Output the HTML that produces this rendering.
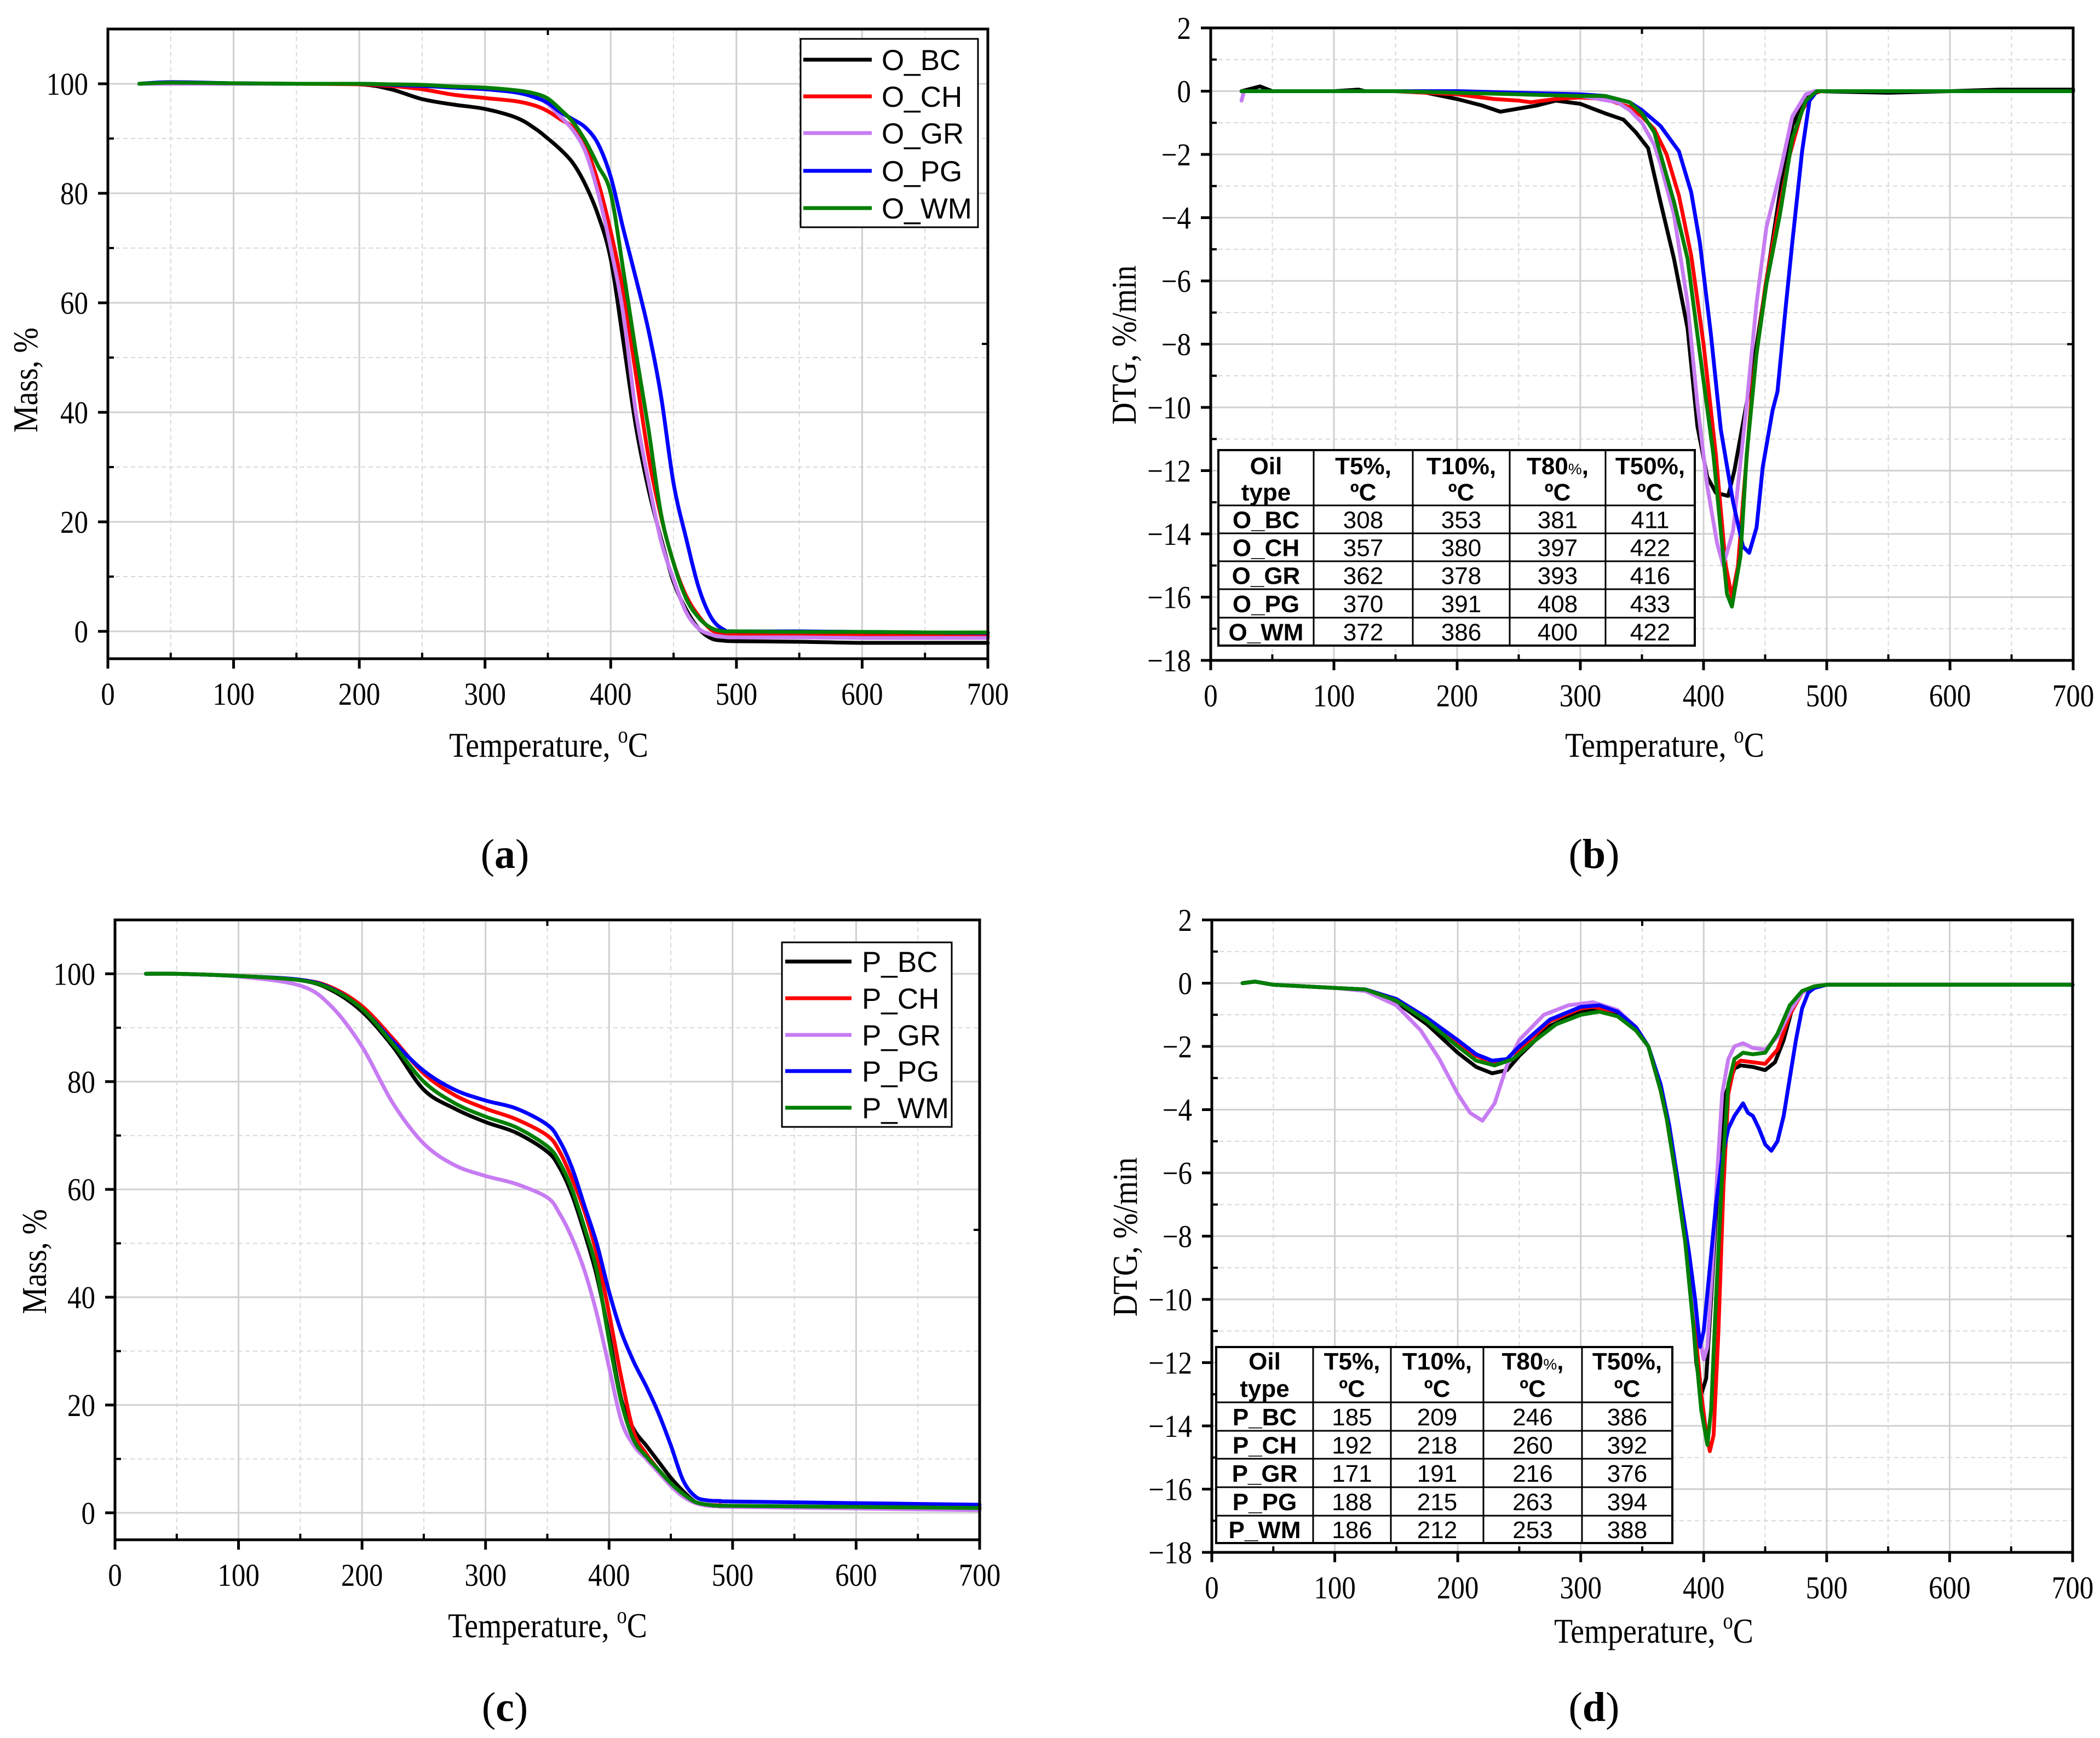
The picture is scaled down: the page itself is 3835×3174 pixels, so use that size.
<!DOCTYPE html>
<html><head><meta charset="utf-8"><title>TG / DTG curves</title>
<style>
html,body{margin:0;padding:0;background:#fff;}
svg{display:block;}
</style></head>
<body>
<svg id="fig" xmlns="http://www.w3.org/2000/svg" width="3835" height="3174" viewBox="0 0 3835 3174">
<rect x="0" y="0" width="3835" height="3174" fill="#fff"/>
</svg>
<script>
// ---------- Panel (a): TG of O_ oils ----------
const aTemps = [25,50,100,150,200,225,250,275,300,325,340,350,360,370,380,390,400,410,420,430,440,450,460,470,480,490,500,550,600,650,700];
const aBC = [100,100.2,100,100,99.9,99,97.2,96.2,95.4,93.8,91.8,90,88,85.5,81.5,76,68,53,37.5,26,17,9,4,0.5,-1.3,-1.7,-1.8,-1.9,-2.1,-2.1,-2.1];
const aCH = [100,100.1,100,100,99.9,99.6,99,98,97.4,96.8,96,95,93.5,92,88.5,82,73,62,47,32,21,12.5,6.5,2.8,0.3,-0.5,-0.7,-0.7,-0.8,-0.8,-0.8];
const aGR = [100,100,100,100,100,99.9,99.8,99.5,99.2,98.6,97.7,96.3,94,91.5,87.5,80,70,58,40,27.5,16.5,9.5,3.5,0.5,-0.6,-1,-1.1,-1.1,-1.2,-1.2,-1.2];
const aPG = [100,100.3,100.1,100,100,99.8,99.6,99.3,99,98.4,97.5,96.5,94.8,93.5,92,89,83,73.5,64.5,55,43,27,17,8,2.5,0.3,0,0,-0.1,-0.2,-0.3];
const aWM = [100,100.2,100.1,100,100,99.9,99.8,99.5,99.3,98.8,98.2,97.3,95.3,93,89.5,85,80,66,51,37,21.5,12.5,6,2.5,0.6,0,0,-0.1,-0.1,-0.2,-0.2];

// ---------- Panel (c): TG of P_ oils ----------
const cTemps = [25,50,100,150,175,200,225,250,275,300,325,350,360,370,380,390,400,410,420,430,440,450,460,470,480,490,500,600,700];
const cBC = [100,100,99.6,98.8,97,93,86.5,78.5,75,72.5,70.5,67,64,59,52,44,33,21,15.5,12.5,9.5,6.5,4,2,1.5,1.3,1.2,1.0,0.9];
const cCH = [100,100,99.6,98.9,97.5,94,88,81.5,77.5,75,73,70,67,62,56,48,37,25,15,11,8,5.5,3.5,2,1.5,1.4,1.3,1.0,0.8];
const cGR = [100,100,99.5,97.8,94,86.5,76,68.5,64.5,62.5,61,58.5,55.5,51,45,37,27,17,12.5,10,7.5,5,3,1.8,1.3,1.2,1.1,0.8,0.5];
const cPG = [100,100,99.6,98.9,97.3,93.5,87.5,82,78.5,76.5,75,72,69,64,57,50,41,33.5,28,23.5,18.5,12.5,6,3,2.3,2.2,2.1,1.8,1.5];
const cWM = [100,100,99.6,98.8,97.2,93.5,87,80,76,73.5,71.5,68,65,60,53,45,32,20.5,13.5,10.5,8,5.5,3.5,2,1.5,1.3,1.3,1.1,0.9];

// ---------- Panel (b): DTG of O_ oils ----------
const bBCt = [25,35,40,50,75,100,120,125,150,175,200,220,235,250,265,280,300,320,335,345,355,365,376,387,395,403,410,420,425,432,440,451,462,472,483,492,550,600,640,650,700];
const bBCv = [0,0.1,0.15,0,0,0,0.05,0,0,-0.05,-0.25,-0.45,-0.65,-0.55,-0.45,-0.3,-0.4,-0.7,-0.9,-1.3,-1.8,-3.5,-5.3,-7.5,-10.6,-12.2,-12.7,-12.8,-12.0,-10.5,-8.8,-6.0,-3.2,-1.1,-0.2,0,-0.05,0,0.05,0.05,0.05];
const bCHt = [25,50,100,150,200,230,250,260,280,300,320,340,350,360,370,380,390,400,410,418,423,428,432,440,450,460,470,480,488,495,550,600,700];
const bCHv = [0,0,0,0,-0.1,-0.25,-0.3,-0.35,-0.25,-0.2,-0.25,-0.5,-0.8,-1.2,-2.0,-3.3,-5.2,-8.0,-11.5,-15,-16,-15,-13,-9.2,-6.2,-4.0,-2.0,-0.6,-0.1,0,0,0,0];
const bGRt = [25,27,30,50,100,150,200,250,300,330,340,350,360,365,376,387,395,403,411,416,424,435,443,451,462,472,483,490,550,600,700];
const bGRv = [-0.3,0,0,0,0,0,-0.05,-0.05,-0.15,-0.35,-0.6,-1.0,-1.7,-2.3,-3.9,-6.7,-9.9,-12.5,-14.3,-15,-13.9,-9.9,-6.7,-4.3,-2.6,-0.8,-0.1,0,0,0,0];
const bPGt = [25,50,100,150,200,250,300,320,340,350,365,380,390,397,406,414,424,432,437,443,448,456,460,467,472,480,486,492,550,600,700];
const bPGv = [0,0,0,0,0,-0.05,-0.1,-0.15,-0.35,-0.6,-1.1,-1.9,-3.2,-4.8,-7.7,-10.7,-13,-14.4,-14.6,-13.8,-11.9,-10.1,-9.5,-6.7,-4.8,-1.9,-0.3,0,0,0,0];
const bWMt = [25,50,100,150,200,250,300,320,340,350,360,376,387,397,408,416,419,423,430,435,443,451,462,472,483,492,550,600,700];
const bWMv = [0,0,0,0,-0.05,-0.1,-0.15,-0.15,-0.35,-0.7,-1.3,-3.5,-5.3,-8.3,-11.5,-14.7,-15.9,-16.3,-14.7,-11.5,-8.3,-6.1,-3.9,-1.5,-0.3,0,0,0,0];

// ---------- Panel (d): DTG of P_ oils ----------
const dBCt = [25,35,50,100,125,150,175,200,215,228,240,250,275,300,315,330,345,355,365,370,377,385,390,394,398,402,406,412,418,425,430,440,450,458,465,472,480,490,500,600,700];
const dBCv = [0,0.05,-0.05,-0.15,-0.2,-0.6,-1.3,-2.2,-2.65,-2.85,-2.75,-2.3,-1.35,-0.9,-0.85,-1.0,-1.5,-2.0,-3.4,-4.3,-6,-8,-10,-12,-13,-12.5,-10,-6,-3.5,-2.7,-2.6,-2.65,-2.75,-2.5,-1.8,-0.8,-0.3,-0.1,-0.05,-0.05,-0.05];
const dCHt = [25,35,50,100,125,150,175,200,215,228,240,250,275,300,310,330,345,355,365,370,377,385,392,398,402,405,408,412,416,420,425,430,440,450,460,470,480,490,500,600,700];
const dCHv = [0,0.05,-0.05,-0.15,-0.2,-0.5,-1.1,-1.9,-2.3,-2.5,-2.45,-2.1,-1.2,-0.8,-0.75,-0.9,-1.4,-2.0,-3.4,-4.3,-6,-8,-10.5,-13,-14.2,-14.8,-14.3,-11,-6.5,-3.5,-2.6,-2.45,-2.5,-2.55,-2.1,-1.0,-0.3,-0.1,-0.05,-0.05,-0.05];
const dGRt = [25,35,50,100,125,150,170,185,200,210,220,230,240,250,270,290,310,330,345,355,365,370,377,385,392,397,400,403,407,411,415,420,425,432,440,450,460,470,480,490,500,600,700];
const dGRv = [0,0.05,-0.05,-0.15,-0.25,-0.7,-1.5,-2.4,-3.5,-4.1,-4.35,-3.8,-2.6,-1.8,-1.0,-0.7,-0.6,-0.85,-1.4,-2.0,-3.4,-4.3,-6,-8,-10,-11.3,-11.9,-11.5,-9,-6,-3.5,-2.4,-2.0,-1.9,-2.05,-2.1,-1.7,-0.9,-0.3,-0.1,-0.05,-0.05,-0.05];
const dPGt = [25,35,50,100,125,150,175,200,215,228,240,250,275,300,315,330,345,355,365,372,380,388,393,397,400,405,410,415,420,425,432,436,440,445,450,455,460,465,470,475,480,485,490,500,600,700];
const dPGv = [0,0.05,-0.05,-0.15,-0.2,-0.5,-1.1,-1.8,-2.25,-2.45,-2.4,-2.0,-1.15,-0.75,-0.7,-0.9,-1.4,-2.0,-3.2,-4.5,-6.5,-8.5,-10,-11.5,-11,-9,-7,-5.5,-4.6,-4.2,-3.8,-4.1,-4.2,-4.6,-5.1,-5.3,-5.0,-4.2,-3.0,-1.8,-0.8,-0.3,-0.15,-0.05,-0.05,-0.05];
const dWMt = [25,35,50,100,125,150,175,200,215,230,245,260,280,300,315,330,345,355,365,370,377,385,392,398,403,406,410,415,420,425,432,440,450,460,470,480,490,500,600,700];
const dWMv = [0,0.05,-0.05,-0.15,-0.2,-0.55,-1.2,-2.0,-2.45,-2.6,-2.4,-1.9,-1.3,-1.0,-0.9,-1.05,-1.5,-2.0,-3.4,-4.3,-6,-8.2,-11,-13.5,-14.6,-13.5,-10,-6,-3.2,-2.4,-2.2,-2.25,-2.2,-1.6,-0.7,-0.25,-0.1,-0.05,-0.05,-0.05];

// ---------- Axis ticks & table data ----------
const xTicks = [0,100,200,300,400,500,600,700];
const xMinor = [50,150,250,350,450,550,650];
const tgTicks = [0,20,40,60,80,100];
const tgMinor = [10,30,50,70,90,110];
const dtgTicks = [2,0,-2,-4,-6,-8,-10,-12,-14,-16,-18];
const dtgMinor = [1,-1,-3,-5,-7,-9,-11,-13,-15,-17];
const oNames = ['O_BC','O_CH','O_GR','O_PG','O_WM'];
const pNames = ['P_BC','P_CH','P_GR','P_PG','P_WM'];
const oTable = [[308,353,381,411],[357,380,397,422],[362,378,393,416],[370,391,408,433],[372,386,400,422]];
const pTable = [[185,209,246,386],[192,218,260,392],[171,191,216,376],[188,215,263,394],[186,212,253,388]];
const colors = ['#000000','#ff0000','#c77cf2','#0000ff','#007f00'];

const NS = 'http://www.w3.org/2000/svg';
const svg = document.getElementById('fig');
function mk(tag, parent){ const e = document.createElementNS(NS, tag); parent.appendChild(e); return e; }
function set(e, o){ for (const k in o) e.setAttribute(k, o[k]); return e; }
function fmt(v){ return v < 0 ? '\u2212' + Math.abs(v) : String(v); }

function sx(p, t){ return p.x0 + t / 700 * (p.x1 - p.x0); }
function sy(p, v){ return p.bottom - (v - p.ymin) / (p.ymax - p.ymin) * (p.bottom - p.top); }

function smoothPath(pts){
  let d = 'M' + pts[0][0].toFixed(1) + ',' + pts[0][1].toFixed(1);
  for (let i = 0; i < pts.length - 1; i++){
    const p0 = pts[Math.max(0, i - 1)], p1 = pts[i], p2 = pts[i + 1], p3 = pts[Math.min(pts.length - 1, i + 2)];
    const c1x = p1[0] + (p2[0] - p0[0]) / 6, c1y = p1[1] + (p2[1] - p0[1]) / 6;
    const c2x = p2[0] - (p3[0] - p1[0]) / 6, c2y = p2[1] - (p3[1] - p1[1]) / 6;
    d += ' C' + c1x.toFixed(1) + ',' + c1y.toFixed(1) + ' ' + c2x.toFixed(1) + ',' + c2y.toFixed(1) + ' ' + p2[0].toFixed(1) + ',' + p2[1].toFixed(1);
  }
  return d;
}

function condText(parent, x, y, str, size, anchor, sxScale, family, weight){
  const t = mk('text', parent);
  set(t, {transform: 'translate(' + x + ',' + y + ') scale(' + sxScale + ',1)', 'font-family': family || '"Liberation Serif", serif', 'font-size': size, 'text-anchor': anchor, fill: '#000'});
  if (weight) t.setAttribute('font-weight', weight);
  t.textContent = str;
  return t;
}

function panel(p){
  const g = mk('g', svg);
  
  
  const grid = mk('g', g);
  
  
  xMinor.forEach(t => { const l = mk('line', grid); set(l, {x1: sx(p,t), x2: sx(p,t), y1: p.top, y2: p.bottom, stroke: '#d9d9d9', 'stroke-width': 2, 'stroke-dasharray': '8,6'}); });
  p.minor.forEach(v => { if (v <= p.ymax && v >= p.ymin) { const l = mk('line', grid); set(l, {x1: p.x0, x2: p.x1, y1: sy(p,v), y2: sy(p,v), stroke: '#d9d9d9', 'stroke-width': 2, 'stroke-dasharray': '8,6'}); } });
  xTicks.forEach(t => { const l = mk('line', grid); set(l, {x1: sx(p,t), x2: sx(p,t), y1: p.top, y2: p.bottom, stroke: '#d0d0d0', 'stroke-width': 3}); });
  p.major.forEach(v => { const l = mk('line', grid); set(l, {x1: p.x0, x2: p.x1, y1: sy(p,v), y2: sy(p,v), stroke: '#d0d0d0', 'stroke-width': 3}); });
  p.series.forEach((s, i) => {
    const pts = s.t.map((t, k) => [sx(p,t), sy(p, s.v[k])]);
    let pl;
    if (p.smooth) {
      pl = mk('path', g);
      
      
      set(pl, {d: smoothPath(pts), fill: 'none', stroke: colors[i], 'stroke-width': 7, 'stroke-linejoin': 'round', 'stroke-linecap': 'round'});
    } else {
      pl = mk('polyline', g);
      
      
      set(pl, {points: pts.map(q => q[0].toFixed(1) + ',' + q[1].toFixed(1)).join(' '), fill: 'none', stroke: colors[i], 'stroke-width': 7, 'stroke-linejoin': 'round', 'stroke-linecap': 'round'});
    }
  });
  const fr = mk('rect', g);
  
  
  set(fr, {x: p.x0, y: p.top, width: p.x1 - p.x0, height: p.bottom - p.top, fill: 'none', stroke: '#000', 'stroke-width': 5});
  const xa = mk('g', g);
  
  
  xTicks.forEach(t => {
    const l = mk('line', xa); set(l, {x1: sx(p,t), x2: sx(p,t), y1: p.bottom, y2: p.bottom + 18, stroke: '#000', 'stroke-width': 5});
    const lb = condText(xa, sx(p,t), p.bottom + 84, String(t), 58, 'middle', 0.88);
    
    
  });
  xMinor.forEach(t => { const l = mk('line', xa); set(l, {x1: sx(p,t), x2: sx(p,t), y1: p.bottom, y2: p.bottom - 11, stroke: '#000', 'stroke-width': 4}); });
  const tt = mk('line', xa); set(tt, {x1: sx(p,350), x2: sx(p,350), y1: p.top, y2: p.top + 11, stroke: '#000', 'stroke-width': 4});
  const ya = mk('g', g);
  
  
  p.major.forEach(v => {
    const l = mk('line', ya); set(l, {x1: p.x0 - 18, x2: p.x0, y1: sy(p,v), y2: sy(p,v), stroke: '#000', 'stroke-width': 5});
    const lb = condText(ya, p.x0 - 36, sy(p,v) + 20, fmt(v), 58, 'end', 0.88);
    
    
  });
  p.minor.forEach(v => { if (v <= p.ymax && v >= p.ymin) { const l = mk('line', ya); set(l, {x1: p.x0, x2: p.x0 + 11, y1: sy(p,v), y2: sy(p,v), stroke: '#000', 'stroke-width': 4}); } });
  const rt = mk('line', ya); set(rt, {x1: p.x1 - 11, x2: p.x1, y1: (p.top + p.bottom) / 2, y2: (p.top + p.bottom) / 2, stroke: '#000', 'stroke-width': 4});
  const xt = mk('text', g);
  
  
  set(xt, {transform: 'translate(' + p.xtx + ',' + p.xty + ') scale(0.87,1)', 'font-family': '"Liberation Serif", serif', 'font-size': 64, 'text-anchor': 'middle'});
  xt.innerHTML = 'Temperature, <tspan font-size="42" dy="-26">o</tspan><tspan dy="26">C</tspan>';
  const yt = mk('text', g);
  
  
  set(yt, {transform: 'translate(' + p.ytx + ',' + p.yty + ') rotate(-90) scale(0.87,1)', 'font-family': '"Liberation Serif", serif', 'font-size': 64, 'text-anchor': 'middle'});
  yt.textContent = p.ytitle;
  const pl = mk('text', g);
  
  
  set(pl, {x: p.lx, y: p.ly, 'font-family': '"Liberation Serif", serif', 'font-size': 76, 'text-anchor': 'middle'});
  pl.innerHTML = '(<tspan font-weight="bold">' + p.letter + '</tspan>)';
  return g;
}

function legend(g, box, names, ys, lx0, lx1, tx){
  const lg = mk('g', g);
  
  
  const r = mk('rect', lg); set(r, {x: box[0], y: box[1], width: box[2], height: box[3], fill: '#fff', stroke: '#000', 'stroke-width': 3});
  names.forEach((n, i) => {
    const e = mk('g', lg);
    
    
    const l = mk('line', e); set(l, {x1: lx0, x2: lx1, y1: ys[i], y2: ys[i], stroke: colors[i], 'stroke-width': 7});
    const t = mk('text', e); set(t, {x: tx, y: ys[i] + 19, 'font-family': '"Liberation Sans", sans-serif', 'font-size': 53});
    t.textContent = n;
  });
}

function table(g, cols, rows, names, vals, hb1, hb2){
  const tg = mk('g', g);
  
  
  const r = mk('rect', tg); set(r, {x: cols[0], y: rows[0], width: cols[5] - cols[0], height: rows[6] - rows[0], fill: '#fff', stroke: '#000', 'stroke-width': 4});
  cols.slice(1,5).forEach(c => { const l = mk('line', tg); set(l, {x1: c, x2: c, y1: rows[0], y2: rows[6], stroke: '#000', 'stroke-width': 3}); });
  rows.slice(1,6).forEach(y => { const l = mk('line', tg); set(l, {x1: cols[0], x2: cols[5], y1: y, y2: y, stroke: '#000', 'stroke-width': 3}); });
  const F = '"Liberation Sans", sans-serif';
  const heads1 = ['Oil','T5%,','T10%,','T80','T50%,'];
  const heads2 = ['type','\u00baC','\u00baC','\u00baC','\u00baC'];
  for (let c = 0; c < 5; c++){
    const cx = (cols[c] + cols[c+1]) / 2;
    const h1 = mk('text', tg); set(h1, {x: cx, y: hb1, 'font-family': F, 'font-size': 44, 'font-weight': 'bold', 'text-anchor': 'middle'});
    
    
    if (c === 3) h1.innerHTML = 'T80<tspan font-size="28" font-weight="normal">%</tspan>,'; else h1.textContent = heads1[c];
    const h2 = mk('text', tg); set(h2, {x: cx, y: hb2, 'font-family': F, 'font-size': 44, 'font-weight': 'bold', 'text-anchor': 'middle'});
    h2.textContent = heads2[c];
  }
  for (let i = 0; i < 5; i++){
    const y = (rows[i+1] + rows[i+2]) / 2 + 16;
    const nt = mk('text', tg); set(nt, {x: (cols[0] + cols[1]) / 2, y: y, 'font-family': F, 'font-size': 44, 'font-weight': 'bold', 'text-anchor': 'middle'});
    
    
    nt.textContent = names[i];
    for (let c = 0; c < 4; c++){
      const vt = mk('text', tg); set(vt, {x: (cols[c+1] + cols[c+2]) / 2, y: y, 'font-family': F, 'font-size': 44, 'text-anchor': 'middle'});
      
      
      vt.textContent = String(vals[i][c]);
    }
  }
}

const gA = panel({name: 'panel-a', letter: 'a', smooth: true, x0: 197, x1: 1804, top: 53, bottom: 1203, ymin: -5, ymax: 110, major: tgTicks, minor: tgMinor,
  ytitle: 'Mass, %', xtx: 1002, xty: 1382, ytx: 68, yty: 694, lx: 922, ly: 1585,
  series: [{label: 'O_BC', t: aTemps, v: aBC}, {label: 'O_CH', t: aTemps, v: aCH}, {label: 'O_GR', t: aTemps, v: aGR}, {label: 'O_PG', t: aTemps, v: aPG}, {label: 'O_WM', t: aTemps, v: aWM}]});
legend(gA, [1462, 71, 324, 344], oNames, [109, 176, 243, 312, 380], 1467, 1592, 1610);

const gB = panel({name: 'panel-b', letter: 'b', smooth: false, x0: 2211, x1: 3786, top: 51, bottom: 1206, ymin: -18, ymax: 2, major: dtgTicks, minor: dtgMinor,
  ytitle: 'DTG, %/min', xtx: 3040, xty: 1382, ytx: 2074, yty: 630, lx: 2911, ly: 1585,
  series: [{label: 'O_BC', t: bBCt, v: bBCv}, {label: 'O_CH', t: bCHt, v: bCHv}, {label: 'O_GR', t: bGRt, v: bGRv}, {label: 'O_PG', t: bPGt, v: bPGv}, {label: 'O_WM', t: bWMt, v: bWMv}]});
table(gB, [2225, 2399, 2580, 2757, 2932, 3095], [822, 923, 974, 1025, 1076, 1128, 1179], oNames, oTable, 866, 914);

const gC = panel({name: 'panel-c', letter: 'c', smooth: true, x0: 210, x1: 1789, top: 1680, bottom: 2812, ymin: -5, ymax: 110, major: tgTicks, minor: tgMinor,
  ytitle: 'Mass, %', xtx: 1000, xty: 2990, ytx: 84, yty: 2304, lx: 922, ly: 3143,
  series: [{label: 'P_BC', t: cTemps, v: cBC}, {label: 'P_CH', t: cTemps, v: cCH}, {label: 'P_GR', t: cTemps, v: cGR}, {label: 'P_PG', t: cTemps, v: cPG}, {label: 'P_WM', t: cTemps, v: cWM}]});
legend(gC, [1428, 1721, 310, 337], pNames, [1756, 1823, 1890, 1956, 2023], 1434, 1555, 1574);

const gD = panel({name: 'panel-d', letter: 'd', smooth: false, x0: 2213, x1: 3785, top: 1680, bottom: 2835, ymin: -18, ymax: 2, major: dtgTicks, minor: dtgMinor,
  ytitle: 'DTG, %/min', xtx: 3020, xty: 3000, ytx: 2076, yty: 2259, lx: 2911, ly: 3143,
  series: [{label: 'P_BC', t: dBCt, v: dBCv}, {label: 'P_CH', t: dCHt, v: dCHv}, {label: 'P_GR', t: dGRt, v: dGRv}, {label: 'P_PG', t: dPGt, v: dPGv}, {label: 'P_WM', t: dWMt, v: dWMv}]});
table(gD, [2221, 2398, 2540, 2709, 2889, 3054], [2460, 2561, 2613, 2664, 2716, 2768, 2818], pNames, pTable, 2501, 2551);
</script>
</body></html>
